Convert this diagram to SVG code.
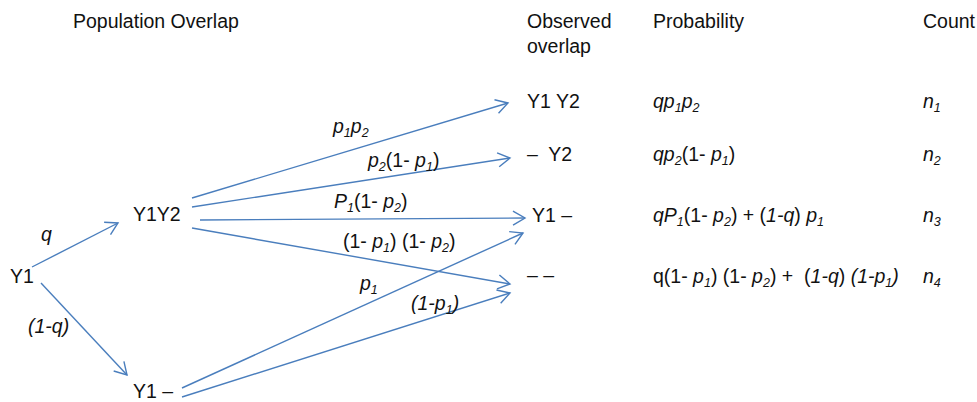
<svg xmlns="http://www.w3.org/2000/svg" width="977" height="402" viewBox="0 0 977 402">
<style>
text{font-family:"Liberation Sans",Arial,sans-serif;font-size:19.5px;fill:#111;white-space:pre}
.i{font-style:italic}
.s{font-size:12.5px}
.c{stroke:#4a7ebd;stroke-width:1.4;fill:none}
</style>
<defs>
<marker id="ah" markerUnits="userSpaceOnUse" markerWidth="16" markerHeight="20" viewBox="-14 -10 16 20" refX="0" refY="0" orient="auto"><path d="M-12,-7 L0,0 L-12,7" fill="none" stroke="#4a7ebd" stroke-width="1.4"/></marker>
</defs>
<g id="headers">
<text x="73" y="28">Population Overlap</text>
<text x="527" y="28">Observed</text>
<text x="527" y="53">overlap</text>
<text x="653" y="28">Probability</text>
<text x="923" y="28">Count</text>
</g>
<g id="connectors">
<path class="c" marker-end="url(#ah)" d="M32,267 L118,223"/>
<path class="c" marker-end="url(#ah)" d="M41,283 L127,375"/>
<path class="c" marker-end="url(#ah)" d="M192,198 L508,103"/>
<path class="c" marker-end="url(#ah)" d="M192,207 L510,158"/>
<path class="c" marker-end="url(#ah)" d="M200,220 L525,218"/>
<path class="c" marker-end="url(#ah)" d="M192,228 L510,284"/>
<path class="c" marker-end="url(#ah)" d="M182,388 L523,233"/>
<path class="c" marker-end="url(#ah)" d="M182,397 L510,293"/>
</g>
<g id="edge-labels">
<text x="41" y="241" class="i">q</text>
<text x="28" y="333" class="i">(1-q)</text>
<text x="333" y="133" class="i">p<tspan class="s" dy="4">1</tspan><tspan dy="-4">p</tspan><tspan class="s" dy="4">2</tspan></text>
<text x="368" y="167"><tspan class="i">p</tspan><tspan class="s i" dy="4">2</tspan><tspan dy="-4">(1- </tspan><tspan class="i">p</tspan><tspan class="s i" dy="4">1</tspan><tspan dy="-4">)</tspan></text>
<text x="334" y="208"><tspan class="i">P</tspan><tspan class="s i" dy="4">1</tspan><tspan dy="-4">(1- </tspan><tspan class="i">p</tspan><tspan class="s i" dy="4">2</tspan><tspan dy="-4">)</tspan></text>
<text x="343" y="248">(1- <tspan class="i">p</tspan><tspan class="s i" dy="4">1</tspan><tspan dy="-4">) (1- </tspan><tspan class="i">p</tspan><tspan class="s i" dy="4">2</tspan><tspan dy="-4">)</tspan></text>
<text x="360" y="290" class="i">p<tspan class="s" dy="4">1</tspan></text>
<text x="411" y="310" class="i">(1-p<tspan class="s" dy="4">1</tspan><tspan dy="-4">)</tspan></text>
</g>
<g id="node-Y1"><text x="10" y="283">Y1</text></g>
<g id="node-Y1Y2"><text x="133" y="221">Y1Y2</text></g>
<g id="node-Y1-"><text x="133" y="398">Y1 –</text></g>
<g id="out-Y1Y2">
<text x="527" y="108">Y1 Y2</text>
<text x="653" y="108" class="i">qp<tspan class="s" dy="4">1</tspan><tspan dy="-4">p</tspan><tspan class="s" dy="4">2</tspan></text>
<text x="923" y="108" class="i">n<tspan class="s" dy="4">1</tspan></text>
</g>
<g id="out-Y2">
<text x="527" y="161">–  Y2</text>
<text x="653" y="161"><tspan class="i">qp</tspan><tspan class="s i" dy="4">2</tspan><tspan dy="-4">(1- </tspan><tspan class="i">p</tspan><tspan class="s i" dy="4">1</tspan><tspan dy="-4">)</tspan></text>
<text x="923" y="161" class="i">n<tspan class="s" dy="4">2</tspan></text>
</g>
<g id="out-Y1">
<text x="532" y="222">Y1 –</text>
<text x="653" y="222"><tspan class="i">qP</tspan><tspan class="s i" dy="4">1</tspan><tspan dy="-4">(1- </tspan><tspan class="i">p</tspan><tspan class="s i" dy="4">2</tspan><tspan dy="-4">) + (</tspan><tspan class="i">1-q</tspan>) <tspan class="i">p</tspan><tspan class="s i" dy="4">1</tspan></text>
<text x="923" y="222" class="i">n<tspan class="s" dy="4">3</tspan></text>
</g>
<g id="out-none">
<text x="527" y="282">– –</text>
<text x="653" y="283">q(1- <tspan class="i">p</tspan><tspan class="s i" dy="4">1</tspan><tspan dy="-4">) (1- </tspan><tspan class="i">p</tspan><tspan class="s i" dy="4">2</tspan><tspan dy="-4">) +  (</tspan><tspan class="i">1-q</tspan>) <tspan class="i">(1-p</tspan><tspan class="s i" dy="4">1</tspan><tspan class="i" dy="-4">)</tspan></text>
<text x="923" y="283" class="i">n<tspan class="s" dy="4">4</tspan></text>
</g>
</svg>
